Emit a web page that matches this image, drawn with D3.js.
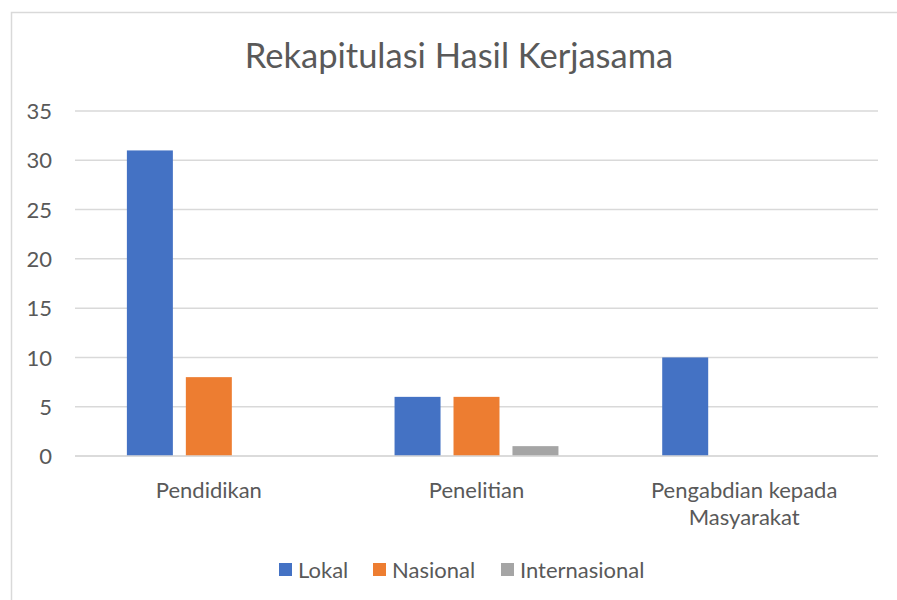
<!DOCTYPE html>
<html>
<head>
<meta charset="utf-8">
<script src="https://cdn.jsdelivr.net/npm/d3@7"></script>
<style>
  body { margin: 0; background: #fff; }
  text { font-family: Lato, "Open Sans", sans-serif; fill: #595959; }
</style>
</head>
<body>
<div id="chart"></div>
<script>
// data
var categories = ["Pendidikan", "Penelitian", "Pengabdian kepada Masyarakat"];
var seriesNames = ["Lokal", "Nasional", "Internasional"];
var lokal = [31, 6, 10];
var nasional = [8, 6, 0];
var internasional = [0, 1, 0];
var yTicks = [0, 5, 10, 15, 20, 25, 30, 35];
var colors = ["#4472c4", "#ed7d31", "#a5a5a5"];

var W = 897, H = 600;
var margin = {top: 111, right: 19, bottom: 144, left: 75},
    width = W - margin.left - margin.right,
    height = H - margin.top - margin.bottom;

var svg = d3.select("#chart").append("svg")
    .attr("width", W).attr("height", H);

// outer chart border (left + top visible)
svg.append("rect")
    .attr("x", 11.5).attr("y", 12.5)
    .attr("width", 900).attr("height", 600)
    .attr("fill", "none").attr("stroke", "#d9d9d9").attr("stroke-width", 1.5);

svg.append("text")
    .attr("x", 459).attr("y", 68)
    .attr("text-anchor", "middle")
    .style("font-size", "34.5px")
    .text("Rekapitulasi Hasil Kerjasama");

var g = svg.append("g").attr("transform", `translate(${margin.left}, ${margin.top})`);

var y = d3.scaleLinear().domain([0, 35]).range([height, 0]);
var x0 = d3.scaleBand().domain(categories).range([0, width]).padding(0);
var x1 = d3.scaleBand().domain(seriesNames).range([0, x0.bandwidth()])
    .paddingInner(0.22).paddingOuter(0.88);

// gridlines
g.append("g")
    .selectAll("line")
    .data(yTicks)
    .enter().append("line")
    .attr("x1", 0).attr("x2", width)
    .attr("y1", d => y(d)).attr("y2", d => y(d))
    .attr("stroke", "#d9d9d9").attr("stroke-width", 1.5);

// y axis labels
var yAxis = g.append("g")
    .call(d3.axisLeft(y).tickValues(yTicks).tickSize(0).tickPadding(23));
yAxis.select(".domain").remove();
yAxis.selectAll("text").style("font-size", "22px").attr("fill", "#595959")
    .style("font-family", "Lato, 'Open Sans', sans-serif").attr("dy", "0.35em");

// bars
var seriesData = [lokal, nasional, internasional];
categories.forEach((c, i) => {
    g.selectAll(null)
        .data(seriesNames.map((s, j) => ({s: s, v: seriesData[j][i], c: colors[j]})))
        .enter().append("rect")
        .attr("x", d => x0(c) + x1(d.s))
        .attr("width", x1.bandwidth())
        .attr("y", d => y(d.v))
        .attr("height", d => height - y(d.v))
        .attr("fill", d => d.c);
});

// redraw baseline over bars
g.append("line")
    .attr("x1", 0).attr("x2", width)
    .attr("y1", y(0)).attr("y2", y(0))
    .attr("stroke", "#d9d9d9").attr("stroke-width", 1.5);

// category labels
var xl = g.append("g").selectAll("text")
    .data(categories).enter().append("text")
    .attr("text-anchor", "middle")
    .style("font-size", "22px")
    .attr("transform", d => `translate(${x0(d) + x0.bandwidth() / 2}, ${height + 42})`);
xl.each(function(d) {
    var t = d3.select(this);
    var lines = d === "Pengabdian kepada Masyarakat" ? ["Pengabdian kepada", "Masyarakat"] : [d];
    lines.forEach((ln, k) => {
        t.append("tspan").attr("x", 0).attr("dy", k === 0 ? 0 : 27).text(ln);
    });
});

// legend
var legendX = [279, 373, 501];
var lg = svg.append("g").selectAll("g")
    .data(seriesNames).enter().append("g")
    .attr("transform", (d, i) => `translate(${legendX[i]}, 563)`);
lg.append("rect").attr("width", 13).attr("height", 13).attr("fill", (d, i) => colors[i]);
lg.append("text").attr("x", 19).attr("y", 14.5).style("font-size", "22px").text(d => d);
</script>
</body>
</html>
